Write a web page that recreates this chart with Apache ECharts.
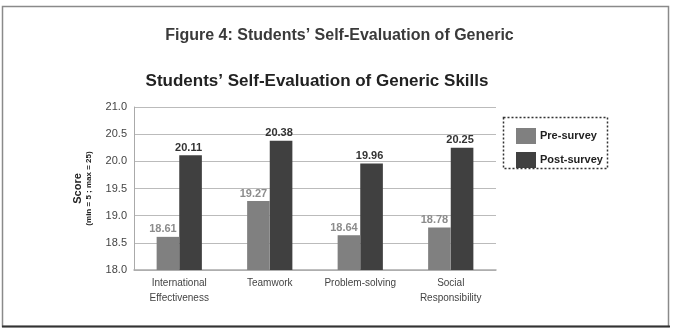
<!DOCTYPE html>
<html>
<head>
<meta charset="utf-8">
<script src="https://cdn.jsdelivr.net/npm/echarts@6/dist/echarts.min.js"></script>
<style>
html,body{margin:0;padding:0;background:#fff;}
#chart{width:677px;height:332px;}
</style>
</head>
<body>
<div id="chart"></div>
<script>
var categories = ['International\nEffectiveness', 'Teamwork', 'Problem-solving', 'Social\nResponsibility'];
var preSurvey = [18.61, 19.27, 18.64, 18.78];
var postSurvey = [20.11, 20.38, 19.96, 20.25];
var seriesNames = ['Pre-survey', 'Post-survey'];
var figureTitle = 'Figure 4: Students\u2019 Self-Evaluation of Generic';
var chartTitle = 'Students\u2019 Self-Evaluation of Generic Skills';

var chart = echarts.init(document.getElementById('chart'), null, {renderer: 'canvas'});
var FONT = 'Liberation Sans, Arial, sans-serif';
chart.setOption({
  backgroundColor: '#fff',
  animation: false,
  textStyle: {fontFamily: FONT},
  title: [
    {text: figureTitle, left: 334.5, top: 23, textAlign: 'center',
     textStyle: {fontSize: 16, fontWeight: 'bold', color: '#3a3a3a', fontFamily: FONT}},
    {text: chartTitle, left: 312, top: 68, textAlign: 'center',
     textStyle: {fontSize: 17, fontWeight: 'bold', color: '#222', fontFamily: FONT}}
  ],
  legend: {
    orient: 'vertical',
    left: 511, top: 123,
    itemWidth: 20, itemHeight: 16, itemGap: 8,
    icon: 'rect',
    textStyle: {fontSize: 11, fontWeight: 'bold', color: '#222', padding: [0, 0, 0, -1]},
    data: seriesNames
  },
  graphic: [
    {type: 'rect', shape: {x: 2.5, y: 6.5, width: 666, height: 320}, style: {fill: 'none', stroke: '#8a8a8a', lineWidth: 1.5}, z: 100},
    {type: 'line', shape: {x1: 2, y1: 326.5, x2: 670, y2: 326.5}, style: {stroke: '#333', lineWidth: 2}, z: 101},
    {type: 'rect', shape: {x: 503.5, y: 117.5, width: 104, height: 51}, style: {fill: 'none', stroke: '#333', lineWidth: 1.5, lineDash: [2, 2]}, z: 100}
  ],
  grid: {left: 134, right: 181, top: 107, bottom: 62, containLabel: false},
  xAxis: {
    type: 'category',
    data: categories,
    axisLine: {show: true, lineStyle: {color: '#aaa', width: 1.5}},
    axisTick: {show: false},
    axisLabel: {fontSize: 10, color: '#444', lineHeight: 15, margin: 6, interval: 0}
  },
  yAxis: {
    type: 'value',
    min: 18, max: 21, interval: 0.5,
    axisLine: {show: true, lineStyle: {color: '#aaa', width: 1}},
    axisTick: {show: false},
    axisLabel: {fontSize: 11, color: '#444', margin: 7, formatter: function (v) { return v.toFixed(1); }},
    splitLine: {lineStyle: {color: '#bbb', width: 1}},
    name: '{a|Score}\n{b|(min = 5 ; max = 25)}',
    nameLocation: 'middle',
    nameRotate: 90,
    nameGap: 40,
    nameTextStyle: {
      rich: {
        a: {fontSize: 11, fontWeight: 'bold', color: '#222', lineHeight: 13, fontFamily: FONT},
        b: {fontSize: 8, fontWeight: 'bold', color: '#222', lineHeight: 10, fontFamily: FONT}
      }
    }
  },
  series: [
    {name: seriesNames[0], type: 'bar', data: preSurvey, barWidth: '25%', barGap: '0%', z: 3,
     itemStyle: {color: '#808080'},
     label: {show: true, position: 'top', distance: 2, offset: [-5, 0], fontSize: 11, fontWeight: 'bold', color: '#8c8c8c',
             formatter: function (p) { return p.value.toFixed(2); }}},
    {name: seriesNames[1], type: 'bar', data: postSurvey, barWidth: '25%', barGap: '0%', z: 2,
     itemStyle: {color: '#404040'},
     label: {show: true, position: 'top', distance: 2, offset: [-2, 0], fontSize: 11, fontWeight: 'bold', color: '#333',
             formatter: function (p) { return p.value.toFixed(2); }}}
  ]
});
</script>
</body>
</html>
